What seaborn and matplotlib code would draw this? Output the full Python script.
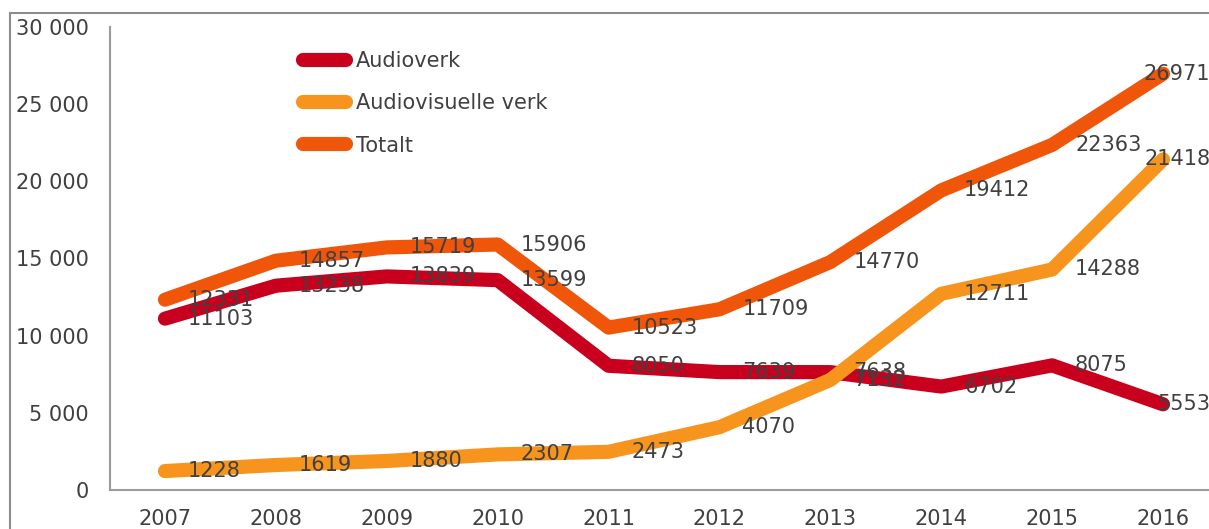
import pandas as pd
import numpy as np
import matplotlib
matplotlib.use("Agg")
import matplotlib.pyplot as plt
import matplotlib.ticker as mticker
from matplotlib.patches import Rectangle
import seaborn as sns

# Data
years = [2007, 2008, 2009, 2010, 2011, 2012, 2013, 2014, 2015, 2016]
audioverk = [11103, 13238, 13839, 13599, 8050, 7639, 7638, 6702, 8075, 5553]
audiovisuelle = [1228, 1619, 1880, 2307, 2473, 4070, 7132, 12711, 14288, 21418]
totalt = [12331, 14857, 15719, 15906, 10523, 11709, 14770, 19412, 22363, 26971]
series_names = ["Audioverk", "Audiovisuelle verk", "Totalt"]
colors = ["#C8001E", "#F7941D", "#F0560A"]

df = pd.DataFrame({
    "year": years * 3,
    "value": audioverk + audiovisuelle + totalt,
    "serie": [series_names[0]] * 10 + [series_names[1]] * 10 + [series_names[2]] * 10,
})

sns.set_style("white")
plt.rcParams["font.family"] = ["DejaVu Sans"]
text_color = "#404040"

fig = plt.figure(figsize=(12.09, 5.29), dpi=100)
W, H = 1209, 529
ax = fig.add_axes([109.5 / W, (529 - 490) / H, (1218.5 - 109.5) / W, (490 - 27) / H])

sns.lineplot(data=df, x="year", y="value", hue="serie", palette=colors,
             linewidth=10.2, solid_capstyle="round", ax=ax, sort=False)

ax.set_xlim(2006.5, 2016.5)
ax.set_ylim(0, 30000)
ax.set_xticks(years)
ax.set_yticks(np.arange(0, 30001, 5000))
ax.yaxis.set_major_formatter(mticker.FuncFormatter(lambda v, p: f"{int(v):,}".replace(",", " ")))
ax.tick_params(axis="both", length=0, labelsize=15, labelcolor=text_color)
ax.tick_params(axis="y", pad=15)
ax.tick_params(axis="x", pad=13.5)
ax.set_xlabel("")
ax.set_ylabel("")
for s in ["top", "right"]:
    ax.spines[s].set_visible(False)
for s in ["left", "bottom"]:
    ax.spines[s].set_color("#9a9a9a")
    ax.spines[s].set_linewidth(1.5)

# data labels
for name, vals in zip(series_names, [audioverk, audiovisuelle, totalt]):
    for i, (x, v) in enumerate(zip(years, vals)):
        if i == len(years) - 1:
            ax.annotate(str(v), (x, v), xytext=(34, 0), textcoords="offset points",
                        ha="right", va="center", fontsize=15, color=text_color,
                        annotation_clip=False, zorder=5)
        else:
            ax.annotate(str(v), (x, v), xytext=(16.5, 0), textcoords="offset points",
                        ha="left", va="center", fontsize=15, color=text_color, zorder=5)

handles, labels = ax.get_legend_handles_labels()
ax.legend(handles, labels, loc="upper left", bbox_to_anchor=(303 / W, 1 - 51 / H),
          bbox_transform=fig.transFigure, frameon=False, fontsize=15,
          handlelength=2.04, handletextpad=0.5, labelspacing=1.07,
          borderpad=0, borderaxespad=0, labelcolor=text_color)

# chart border
fig.patches.append(Rectangle((10 / W, -0.1), 1.2, 1 - 13 / H + 0.1, fill=False,
                             edgecolor="#8c8c8c", linewidth=1.5,
                             transform=fig.transFigure, figure=fig))

fig.savefig("out.png", dpi=100)
